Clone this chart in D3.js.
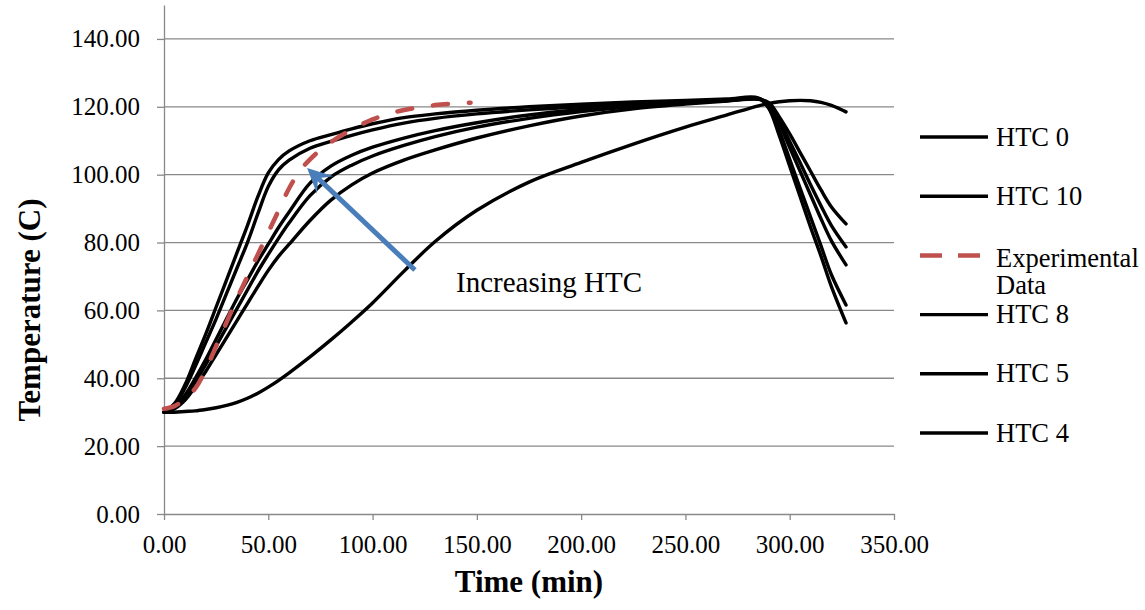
<!DOCTYPE html>
<html>
<head>
<meta charset="utf-8">
<script src="https://cdn.jsdelivr.net/npm/d3@7"></script>
<style>
	body { margin: 0; background: #fff; }
	svg text { font-family: 'Liberation Serif', 'Times New Roman', serif; fill: #000; }
</style>
</head>
<body>
<svg class="display"></svg>
<script>
// time grid shared by the simulated runs (min)
const simTime = [0, 5, 10, 15, 20, 25, 30, 35, 40, 45, 50, 55, 60, 70, 80, 90, 100, 115, 130, 150, 175, 200, 225, 250, 270, 285, 290, 295, 300, 305, 310, 315, 320, 327];

// temperatures (C)
const htc0 = [30, 30, 30.2, 30.4, 30.8, 31.3, 32, 32.9, 34.1, 35.6, 37.4, 39.4, 41.6, 46.3, 51.3, 56.6, 62.2, 71.5, 80.3, 89.5, 97.8, 103.6, 109, 114, 117.6, 120.3, 121, 121.5, 121.8, 121.9, 121.8, 121.3, 120.4, 118.5];
const htc10 = [30, 32.5, 38, 45.5, 53, 61, 69, 77, 85, 93.5, 100.5, 104.5, 107, 110, 111.8, 113.5, 115, 116.8, 117.9, 119, 120, 120.8, 121.4, 121.9, 122.3, 122.6, 119.5, 111.5, 102.5, 93.5, 84.5, 76, 67, 56.3];
const htc9 = [30, 32, 37, 43.5, 50.5, 57.5, 65, 72.5, 80, 88.5, 96.5, 101.5, 104.3, 107.8, 109.8, 111.6, 113.2, 115.2, 116.6, 117.9, 119.1, 120, 120.8, 121.5, 122, 122.5, 120, 113, 104.5, 96, 87.5, 79, 70.5, 61.6];
const htc8 = [30, 31.5, 35, 40, 45.5, 51.5, 57.5, 63.5, 69, 74.5, 79.5, 84.5, 89, 97.5, 102.5, 105.7, 108.1, 110.8, 113, 115.3, 117.6, 119.2, 120.4, 121.3, 121.9, 122.4, 120.8, 115, 108, 101, 94, 87, 80.5, 73.4];
const htc5 = [30, 31.3, 34.5, 39, 44, 49.5, 55, 60.5, 66, 71.5, 76.5, 81.3, 85.8, 93.8, 99.3, 102.8, 105.5, 108.6, 111.2, 114, 116.6, 118.6, 120.1, 121.2, 121.8, 122.3, 121, 116, 109.8, 103.5, 97, 90.8, 85, 78.7];
const htc4 = [30, 31, 33.5, 37.5, 42, 47, 52, 57, 62, 67, 71.8, 76, 79.5, 86.5, 92.5, 97, 100.5, 104.3, 107.3, 110.8, 114.4, 117.3, 119.4, 120.8, 121.7, 122.2, 121.2, 117, 112, 106.5, 101, 95.5, 90.5, 85.5];

// experimental thermocouple readings
const expTime = [0, 5, 10, 15, 20, 25, 30, 35, 40, 45, 50, 55, 60, 65, 70, 75, 80, 90, 100, 110, 120, 130, 140, 147];
const expTemp = [31, 31.8, 34, 37, 42.5, 49.5, 56.5, 63.5, 70, 76.5, 83, 89.5, 96, 101, 104.5, 107.3, 109.6, 113.3, 116.3, 118.3, 119.6, 120.5, 121, 121.2];

const xTicks = [0, 50, 100, 150, 200, 250, 300, 350];
const yTicks = [0, 20, 40, 60, 80, 100, 120, 140];
const legendNames = ['HTC 0', 'HTC 10', 'Experimental Data', 'HTC 8', 'HTC 5', 'HTC 4'];

//define area of graph
const totalWidth = 1145,
	totalHeight = 610,
	margin = { top: 5, right: 251, bottom: 96, left: 164 },
	width = totalWidth - margin.left - margin.right, // 730
	height = totalHeight - margin.top - margin.bottom; // 509

const gridColor = '#898989',
	expColor = '#C0504D',
	arrowColor = '#4A7EBB';

const series = [
	{ name: 'HTC 0', t: simTime, v: htc0 },
	{ name: 'HTC 10', t: simTime, v: htc10 },
	{ name: 'HTC 9', t: simTime, v: htc9 },
	{ name: 'HTC 8', t: simTime, v: htc8 },
	{ name: 'HTC 5', t: simTime, v: htc5 },
	{ name: 'HTC 4', t: simTime, v: htc4 },
	{ name: 'Experimental Data', t: expTime, v: expTemp, dashed: true }
];

const xScale = d3.scaleLinear().domain([0, 350]).range([0, width]);
const yScale = d3.scaleLinear().domain([0, 150]).range([height, 0]);

const display = d3
	.select('.display')
	.attr('width', totalWidth)
	.attr('height', totalHeight)
	.append('g')
	.attr('transform', 'translate(' + margin.left + ',' + margin.top + ')');

//horizontal gridlines
display
	.append('g')
	.selectAll('line')
	.data(yTicks.filter((d) => d > 0))
	.enter()
	.append('line')
	.attr('x1', 0)
	.attr('x2', width)
	.attr('y1', (d) => yScale(d))
	.attr('y2', (d) => yScale(d))
	.attr('stroke', gridColor)
	.attr('stroke-width', 1.3);

//axes
const xAxis = d3
	.axisBottom(xScale)
	.tickValues(xTicks)
	.tickFormat(d3.format('.2f'))
	.tickSize(6)
	.tickSizeOuter(0)
	.tickPadding(15);

const yAxis = d3
	.axisLeft(yScale)
	.tickValues(yTicks)
	.tickFormat(d3.format('.2f'))
	.tickSize(7)
	.tickSizeOuter(0)
	.tickPadding(17);

const gx = display
	.append('g')
	.attr('transform', 'translate(0,' + height + ')')
	.call(xAxis);

const gy = display.append('g').call(yAxis);

[gx, gy].forEach((g) => {
	g.attr('font-family', null);
	g.selectAll('path, line').attr('stroke', gridColor).attr('stroke-width', 1.3);
	g.selectAll('text')
		.style('font-family', "'Liberation Serif', 'Times New Roman', serif")
		.style('font-size', '25px')
		.attr('fill', '#000');
});

//curves
const line = d3
	.line()
	.x((d) => xScale(d[0]))
	.y((d) => yScale(d[1]))
	.curve(d3.curveCatmullRom.alpha(0.5));

const drawOrder = series.filter((s) => !s.dashed).concat(series.filter((s) => s.dashed));

display
	.append('g')
	.selectAll('path')
	.data(drawOrder)
	.enter()
	.append('path')
	.attr('d', (s) => line(s.t.map((t, i) => [t, s.v[i]])))
	.attr('fill', 'none')
	.attr('stroke', (s) => (s.dashed ? expColor : '#000'))
	.attr('stroke-width', (s) => (s.dashed ? 4.5 : 3.4))
	.attr('stroke-linecap', 'round')
	.attr('stroke-dasharray', (s) => (s.dashed ? '15,21' : null));

//annotation arrow
const tail = [xScale(120.3), yScale(71.9)],
	tip = [xScale(68.6), yScale(102)];
const dx = tip[0] - tail[0],
	dy = tip[1] - tail[1],
	len = Math.sqrt(dx * dx + dy * dy);
const ux = dx / len,
	uy = dy / len,
	nx = -uy,
	ny = ux;

display
	.append('line')
	.attr('x1', tail[0])
	.attr('y1', tail[1])
	.attr('x2', tip[0] - 14 * ux)
	.attr('y2', tip[1] - 14 * uy)
	.attr('stroke', arrowColor)
	.attr('stroke-width', 5);

const headPts = [
	[tip[0], tip[1]],
	[tip[0] - 25 * ux + 12 * nx, tip[1] - 25 * uy + 12 * ny],
	[tip[0] - 15 * ux, tip[1] - 15 * uy],
	[tip[0] - 25 * ux - 12 * nx, tip[1] - 25 * uy - 12 * ny]
];
display
	.append('path')
	.attr('d', 'M' + headPts.map((p) => p.join(',')).join('L') + 'Z')
	.attr('fill', arrowColor);

display
	.append('text')
	.attr('x', xScale(140))
	.attr('y', yScale(65.5))
	.style('font-size', '29px')
	.text('Increasing HTC');

//legend
const legend = display
	.append('g')
	.attr('transform', 'translate(' + (width + 26) + ',132)');

const item = legend
	.selectAll('g')
	.data(legendNames)
	.enter()
	.append('g')
	.attr('transform', (d, i) => 'translate(0,' + i * 59.2 + ')');

item
	.append('line')
	.attr('x1', 0)
	.attr('x2', 68)
	.attr('y1', 0)
	.attr('y2', 0)
	.attr('stroke', (d) => (d === 'Experimental Data' ? expColor : '#000'))
	.attr('stroke-width', (d) => (d === 'Experimental Data' ? 4.5 : 3.4))
	.attr('stroke-dasharray', (d) => (d === 'Experimental Data' ? '22,16' : null));

item.each(function (d) {
	const t = d3
		.select(this)
		.append('text')
		.attr('x', 76)
		.style('font-size', '26.5px');
	const words = d === 'Experimental Data' ? ['Experimental', 'Data'] : [d];
	const first = words.length > 1 ? 11.5 : 8.5;
	words.forEach((w, i) => {
		t.append('tspan')
			.attr('x', 76)
			.attr('y', first + i * 27.5)
			.text(w);
	});
});

//axis titles
display
	.append('text')
	.attr('x', width / 2)
	.attr('y', 587)
	.attr('text-anchor', 'middle')
	.style('font-size', '31px')
	.style('font-weight', 'bold')
	.text('Time (min)');

display
	.append('text')
	.attr('transform', 'translate(' + (40 - margin.left) + ',305) rotate(-90)')
	.attr('text-anchor', 'middle')
	.style('font-size', '31px')
	.style('font-weight', 'bold')
	.text('Temperature (C)');
</script>
</body>
</html>
